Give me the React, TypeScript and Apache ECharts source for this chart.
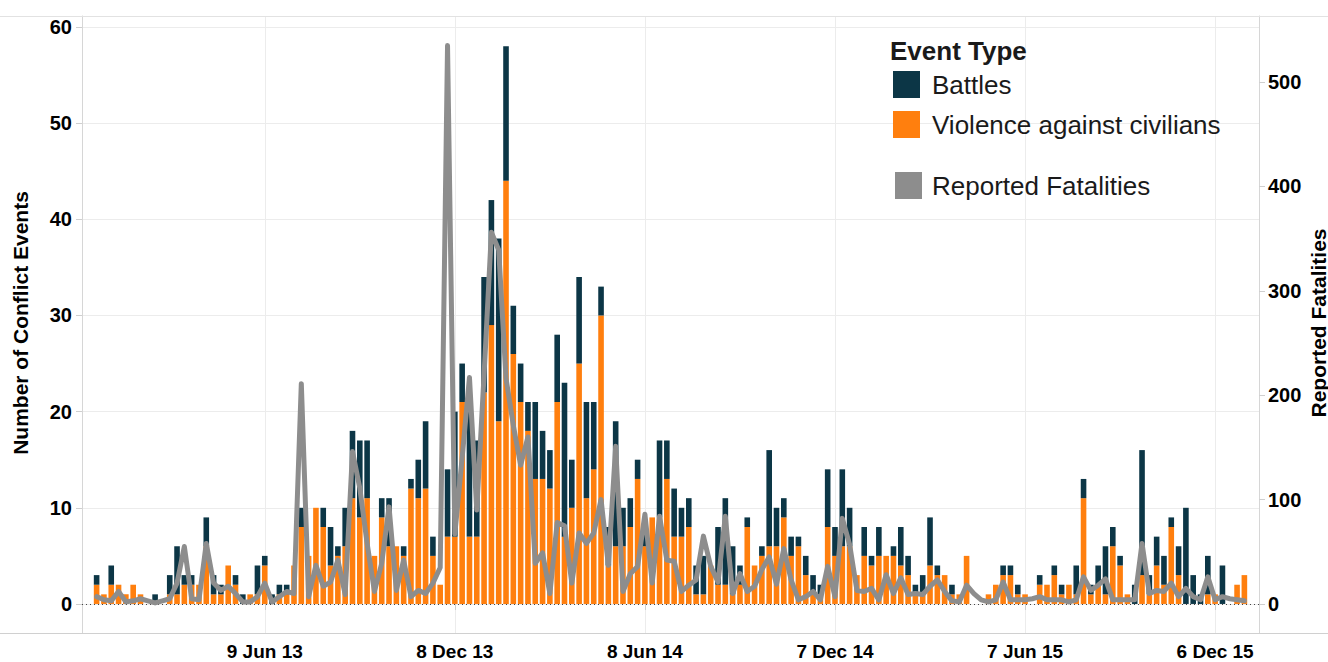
import React, { useEffect, useRef } from "react";
import * as echarts from "echarts";

// Weekly data, first week = 30 Dec 2012 (index 0), last = 3 Jan 2016 (index 157)
const FIRST_WEEK = [2012, 11, 30];
const MONTHS = ["Jan", "Feb", "Mar", "Apr", "May", "Jun", "Jul", "Aug", "Sep", "Oct", "Nov", "Dec"];
const TICK_LABELS = ["9 Jun 13", "8 Dec 13", "8 Jun 14", "7 Dec 14", "7 Jun 15", "6 Dec 15"];
const LEFT_TICKS = [0, 10, 20, 30, 40, 50, 60];
const RIGHT_TICKS = [0, 100, 200, 300, 400, 500];

const VIOLENCE = [
  2, 1, 2, 2, 1, 2, 1, 0, 0, 0,
  1, 1, 2, 2, 2, 6, 1, 1, 4, 2,
  0, 1, 1, 4, 0, 1, 1, 4, 8, 5,
  10, 8, 4, 5, 6, 11, 9, 11, 5, 9,
  6, 6, 5, 12, 11, 12, 5, 2, 7, 7,
  21, 7, 7, 22, 29, 19, 44, 26, 21, 18,
  13, 13, 12, 21, 7, 10, 25, 11, 14, 30,
  4, 6, 6, 8, 13, 6, 9, 9, 13, 7,
  7, 8, 1, 1, 4, 2, 2, 1, 2, 8,
  4, 5, 6, 6, 9, 5, 6, 3, 1, 1,
  8, 5, 6, 6, 3, 5, 4, 5, 5, 5,
  4, 3, 1, 1, 4, 3, 3, 1, 1, 5,
  0, 0, 1, 2, 3, 3, 1, 1, 0, 2,
  2, 3, 1, 2, 1, 11, 1, 2, 1, 6,
  4, 1, 0, 3, 1, 4, 2, 8, 3, 0,
  0, 0, 1, 1, 0, 0, 2, 3,
];

const BATTLES = [
  1, 0, 2, 0, 0, 0, 0, 0, 1, 0,
  2, 5, 1, 1, 0, 3, 2, 1, 0, 1,
  1, 0, 3, 1, 1, 1, 1, 0, 2, 0,
  0, 2, 4, 1, 4, 7, 8, 6, 0, 2,
  5, 0, 1, 1, 4, 7, 2, 0, 7, 13,
  4, 13, 10, 12, 13, 19, 14, 5, 4, 3,
  8, 5, 4, 7, 16, 5, 9, 10, 7, 3,
  4, 13, 4, 3, 2, 2, 0, 8, 4, 5,
  3, 3, 3, 4, 0, 6, 9, 5, 2, 1,
  0, 1, 10, 4, 2, 2, 1, 2, 2, 1,
  6, 3, 8, 4, 0, 3, 1, 3, 0, 1,
  4, 2, 1, 2, 5, 1, 0, 1, 0, 0,
  0, 0, 0, 0, 1, 1, 1, 0, 0, 1,
  0, 1, 1, 0, 3, 2, 1, 2, 5, 2,
  1, 0, 2, 13, 2, 3, 3, 1, 3, 10,
  3, 1, 4, 0, 4, 0, 0, 0,
];

const FATALITIES = [
  7, 4, 3, 12, 2, 3, 5, 3, 1, 3,
  5, 20, 55, 5, 4, 58, 20, 13, 17, 10,
  2, 2, 7, 20, 2, 7, 12, 10, 211, 7,
  37, 17, 21, 42, 9, 146, 111, 58, 12, 39,
  93, 13, 42, 7, 13, 10, 20, 35, 535, 67,
  140, 217, 90, 220, 356, 339, 216, 171, 133, 160,
  39, 49, 10, 78, 75, 20, 68, 58, 68, 100,
  37, 151, 12, 29, 36, 86, 20, 84, 42, 41,
  12, 18, 23, 65, 36, 21, 84, 10, 29, 12,
  17, 33, 45, 19, 53, 23, 4, 7, 12, 4,
  36, 7, 82, 57, 13, 12, 15, 4, 28, 10,
  25, 9, 10, 9, 17, 23, 12, 3, 2, 18,
  10, 4, 2, 4, 21, 4, 4, 4, 5, 7,
  4, 4, 4, 2, 4, 26, 13, 18, 24, 4,
  4, 4, 4, 58, 10, 13, 12, 20, 7, 15,
  7, 4, 26, 4, 7, 5, 4, 3,
];

const DARK = "#0c3646";
const ORANGE = "#ff7f0e";
const GRAY = "#8d8d8d";
const FONT = "'Liberation Sans', Arial, sans-serif";
const PAD = 2; // empty weeks shown before the first and after the last bar

function weekLabel(offset: number): string {
  const d = new Date(FIRST_WEEK[0], FIRST_WEEK[1], FIRST_WEEK[2] + 7 * offset);
  return `${d.getDate()} ${MONTHS[d.getMonth()]} ${String(d.getFullYear()).slice(2)}`;
}

export default function App() {
  const ref = useRef<HTMLDivElement>(null);

  useEffect(() => {
    if (!ref.current) return;
    const chart = echarts.init(ref.current, null, { renderer: "svg" });

    const n = VIOLENCE.length;
    const categories: string[] = [];
    for (let k = -PAD; k < n + PAD; k++) categories.push(weekLabel(k));
    const padded = (arr: number[]) => [
      ...Array(PAD).fill(null),
      ...arr,
      ...Array(PAD).fill(null),
    ];
    const isTick = (index: number) => TICK_LABELS.indexOf(categories[index]) >= 0;

    const legendText = (text: string, x: number, y: number, bold = false) => ({
      type: "text",
      z: 100,
      x,
      y,
      style: {
        text,
        fontSize: 26,
        fontWeight: bold ? "bold" : "normal",
        fontFamily: FONT,
        fill: "#1a1a1a",
        align: "left",
        verticalAlign: "middle",
      },
    });

    const option: any = {
      animation: false,
      backgroundColor: "#ffffff",
      textStyle: { fontFamily: FONT },
      grid: { left: 82, right: 69, top: 16, bottom: 29, containLabel: false, outerBoundsMode: "none" },
      xAxis: {
        type: "category",
        data: categories,
        boundaryGap: false,
        axisLine: { show: false },
        axisTick: { show: true, interval: isTick, alignWithLabel: true, length: 6, lineStyle: { color: "#cfcfcf" } },
        axisLabel: {
          interval: isTick,
          margin: 9,
          color: "#000",
          fontWeight: "bold",
          fontSize: 19,
          fontFamily: FONT,
        },
        splitLine: { show: true, interval: isTick, lineStyle: { color: "#ececec", width: 1 } },
      },
      yAxis: [
        {
          type: "value",
          position: "left",
          min: -3.02,
          max: 61.14,
          axisLine: { show: true, lineStyle: { color: "#d6d6d6" } },
          axisTick: { show: true, customValues: LEFT_TICKS, length: 6, lineStyle: { color: "#cfcfcf" } },
          axisLabel: {
            customValues: LEFT_TICKS,
            margin: 10,
            color: "#000",
            fontWeight: "bold",
            fontSize: 20,
            fontFamily: FONT,
          },
          splitLine: { show: true, lineStyle: { color: "#ececec", width: 1 } },
        },
        {
          type: "value",
          position: "right",
          min: -27.8,
          max: 563.2,
          axisLine: { show: true, lineStyle: { color: "#d6d6d6" } },
          axisTick: { show: true, customValues: RIGHT_TICKS, length: 6, lineStyle: { color: "#cfcfcf" } },
          axisLabel: {
            customValues: RIGHT_TICKS,
            margin: 9,
            color: "#000",
            fontWeight: "bold",
            fontSize: 20,
            fontFamily: FONT,
          },
          splitLine: { show: false },
        },
      ],
      series: [
        {
          name: "Violence against civilians",
          type: "bar",
          stack: "events",
          barWidth: 5.6,
          data: padded(VIOLENCE),
          itemStyle: { color: ORANGE },
          z: 2,
        },
        {
          name: "Battles",
          type: "bar",
          stack: "events",
          barWidth: 5.6,
          data: padded(BATTLES),
          itemStyle: { color: DARK },
          z: 2,
          markLine: {
            silent: true,
            symbol: ["none", "none"],
            label: { show: false },
            lineStyle: { color: "#444", type: [1, 3], width: 1 },
            data: [{ yAxis: 0 }],
          },
        },
        {
          name: "Reported Fatalities",
          type: "line",
          yAxisIndex: 1,
          data: padded(FATALITIES),
          symbol: "none",
          lineStyle: { width: 5, color: GRAY, cap: "round", join: "round" },
          itemStyle: { color: GRAY },
          z: 5,
        },
      ],
      graphic: [
        { type: "line", silent: true, z: 1, shape: { x1: 0, y1: 16.5, x2: 1328, y2: 16.5 }, style: { stroke: "#e2e2e2", lineWidth: 1 } },
        { type: "line", silent: true, z: 1, shape: { x1: 0, y1: 633.5, x2: 1328, y2: 633.5 }, style: { stroke: "#d0d0d0", lineWidth: 1 } },
        {
          type: "text",
          z: 100,
          x: 20,
          y: 323,
          rotation: Math.PI / 2,
          style: { text: "Number of Conflict Events", fontSize: 21, fontWeight: "bold", fontFamily: FONT, fill: "#000", align: "center", verticalAlign: "middle" },
        },
        {
          type: "text",
          z: 100,
          x: 1318,
          y: 323,
          rotation: Math.PI / 2,
          style: { text: "Reported Fatalities", fontSize: 21, fontWeight: "bold", fontFamily: FONT, fill: "#000", align: "center", verticalAlign: "middle" },
        },
        legendText("Event Type", 890, 51, true),
        { type: "rect", z: 100, shape: { x: 893, y: 71, width: 27, height: 27 }, style: { fill: DARK } },
        legendText("Battles", 932, 85),
        { type: "rect", z: 100, shape: { x: 893, y: 111, width: 27, height: 27 }, style: { fill: ORANGE } },
        legendText("Violence against civilians", 932, 125),
        { type: "rect", z: 100, shape: { x: 895, y: 172, width: 27, height: 27 }, style: { fill: GRAY } },
        legendText("Reported Fatalities", 932, 186),
      ],
    };

    chart.setOption(option);
    return () => chart.dispose();
  }, []);

  return (
    <div
      ref={ref}
      style={{ position: "fixed", left: 0, top: 0, width: 1328, height: 662, background: "#fff" }}
    />
  );
}
